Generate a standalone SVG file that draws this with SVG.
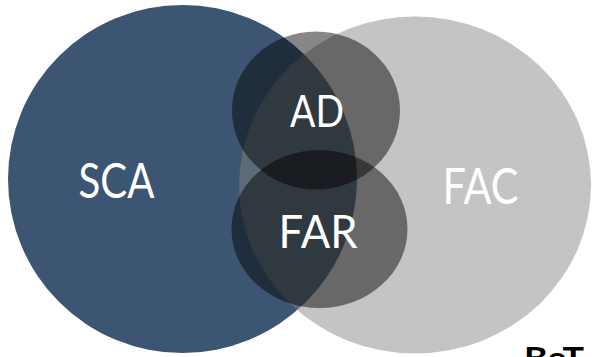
<svg xmlns="http://www.w3.org/2000/svg" width="594" height="357" viewBox="0 0 594 357">
  <style>
    .lbl { font-family: Lato, "Open Sans", "Liberation Sans", sans-serif; fill: #ffffff; text-anchor: middle; }
    .sub { fill: #000000; fill-opacity: 0.47; }
  </style>
  <rect width="594" height="357" fill="#ffffff"/>
  <g id="SCA">
    <ellipse cx="182.5" cy="179" rx="174.5" ry="174" fill="#3B5573"/>
  </g>
  <g id="FAC">
    <ellipse cx="415" cy="185" rx="176" ry="168.5" fill="#828282" fill-opacity="0.47"/>
  </g>
  <g id="AD">
    <ellipse class="sub" cx="316" cy="110.5" rx="84" ry="79"/>
  </g>
  <g id="FAR">
    <ellipse class="sub" cx="319.5" cy="229" rx="88" ry="79"/>
  </g>
  <g id="labels">
    <text class="lbl" x="116.5" y="197.7" font-size="49" textLength="76" lengthAdjust="spacingAndGlyphs">SCA</text>
    <text class="lbl" x="480.5" y="204.3" font-size="50" textLength="76" lengthAdjust="spacingAndGlyphs">FAC</text>
    <text class="lbl" x="317" y="126.7" font-size="44" textLength="54" lengthAdjust="spacingAndGlyphs">AD</text>
    <text class="lbl" x="318" y="248.3" font-size="47" textLength="79" lengthAdjust="spacingAndGlyphs">FAR</text>
    <text x="524" y="368.5" font-family="Lato, 'Liberation Sans', sans-serif" font-size="30" font-weight="bold" fill="#000000" textLength="60" lengthAdjust="spacingAndGlyphs">BeT</text>
  </g>
  <g id="connectors"/>
</svg>
